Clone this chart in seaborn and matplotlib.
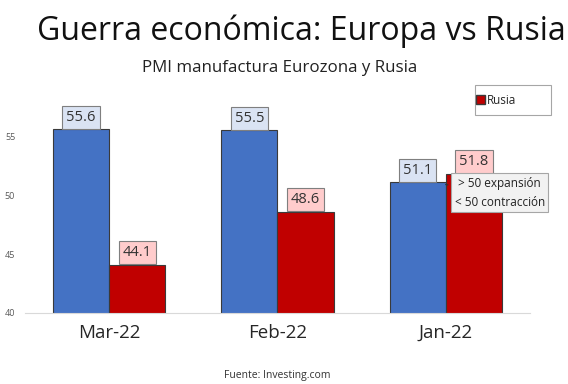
import matplotlib
matplotlib.use("Agg")
import matplotlib.pyplot as plt
import seaborn as sns
import pandas as pd
from matplotlib.patches import Patch, Rectangle

# data
meses = ["Mar-22", "Feb-22", "Jan-22"]
eurozona = [55.6, 55.5, 51.1]
rusia = [44.1, 48.6, 51.8]

BLUE = "#4472C4"
RED = "#C00000"

df = pd.DataFrame({
    "mes": meses * 2,
    "pmi": eurozona + rusia,
    "serie": ["Eurozona"] * 3 + ["Rusia"] * 3,
})

sns.set_theme(style="white")
plt.rcParams["font.family"] = ["Open Sans", "DejaVu Sans"]

fig = plt.figure(figsize=(5.68, 3.84), dpi=100)
ax = fig.add_axes([0.044, 0.185, 0.889, 0.583])

sns.barplot(data=df, x="mes", y="pmi", hue="serie", order=meses,
            palette=[BLUE, RED], width=0.667, ax=ax, legend=False,
            edgecolor="#3A3A3A", linewidth=0.8, saturation=1)

ax.set_ylim(40, 59)
ax.set_xlim(-0.5, 2.5)
ax.set_yticks([40, 45, 50, 55])
ax.set_xlabel("")
ax.set_ylabel("")
ax.tick_params(axis="y", length=0, labelsize=6.5, labelcolor="#595959", pad=7)
ax.tick_params(axis="x", length=0, labelsize=13.5, labelcolor="#262626", pad=8)
ax.set_xticks([-0.5, 0.5, 1.5, 2.5], minor=True)
ax.tick_params(axis="x", which="minor", length=4, color="#D9D9D9", width=0.8)
for s in ["top", "right", "left"]:
    ax.spines[s].set_visible(False)
ax.spines["bottom"].set_color("#D9D9D9")
ax.spines["bottom"].set_linewidth(0.8)

# value labels in boxes
fills = {0: "#DAE3F3", 1: "#FFCCCC"}
for i, cont in enumerate(ax.containers):
    for bar in cont:
        h = bar.get_height()
        ax.annotate(f"{h:.1f}", (bar.get_x() + bar.get_width() / 2, h),
                    xytext=(0, 3.2), textcoords="offset points",
                    ha="center", va="bottom", fontsize=10.5, color="#333333",
                    bbox=dict(boxstyle="square,pad=0.28", fc=fills[i],
                              ec="#7F7F7F", lw=0.8))

# note box
ax.annotate("> 50 expansión\n< 50 contracción", xy=(2.0, 50.9),
            xytext=(2.32, 50.2), textcoords="data",
            ha="center", va="center", fontsize=8.5, color="#222222",
            linespacing=1.55,
            bbox=dict(boxstyle="square,pad=0.3", fc="#F2F2F2",
                      ec="#A6A6A6", lw=0.8),
            arrowprops=dict(arrowstyle="-", color="#333333", lw=1.0))

# legend (its upper part is cut off in the original)
fig.patches.append(Rectangle((475 / 568, 1 - 115 / 384), 76 / 568, 30 / 384,
                             transform=fig.transFigure, fc="white",
                             ec="#A6A6A6", lw=0.8))
fig.legend(handles=[Patch(facecolor=RED, edgecolor="#3A3A3A", label="Rusia")],
           loc="center left", bbox_to_anchor=(476 / 568, 1 - 100 / 384),
           fontsize=8.5, frameon=False,
           handlelength=0.75, handleheight=0.75, handletextpad=0.2,
           borderpad=0, borderaxespad=0)

fig.text(37 / 568, 1 - 40 / 384, "Guerra económica: Europa vs Rusia",
         ha="left", va="baseline", fontsize=23, color="#111111")
fig.text(280 / 568, 1 - 72 / 384, "PMI manufactura Eurozona y Rusia",
         ha="center", va="baseline", fontsize=12.2, color="#222222")
fig.text(277 / 568, 1 - 378 / 384, "Fuente: Investing.com",
         ha="center", va="baseline", fontsize=7.5, color="#333333")

fig.savefig("out.png", dpi=100)
